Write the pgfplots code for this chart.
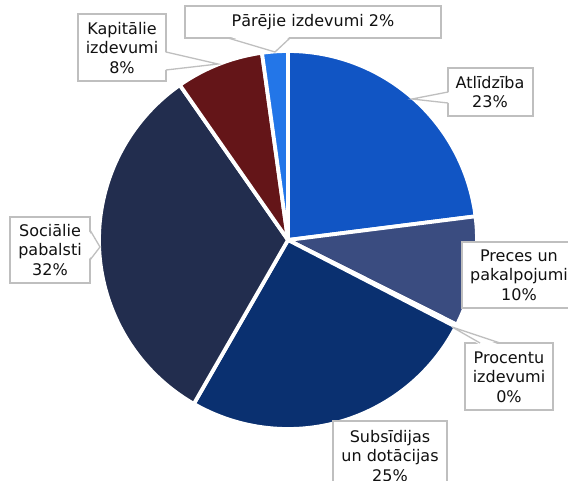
\documentclass[border=0pt]{standalone}
\usepackage{pgfplots}
\pgfplotsset{compat=1.18}
\usepackage{fontspec}
\setmainfont{DejaVu Sans}
\definecolor{cAtl}{HTML}{1155C4}
\definecolor{cPre}{HTML}{3A4C80}
\definecolor{cPro}{HTML}{4A6FB0}
\definecolor{cSub}{HTML}{0A3070}
\definecolor{cSoc}{HTML}{222D4E}
\definecolor{cKap}{HTML}{641518}
\definecolor{cPar}{HTML}{2376E8}
\definecolor{boxgray}{HTML}{BFBFBF}
\definecolor{txt}{HTML}{111111}
% shares (percent)
\def\vAtl{23.0}
\def\vPre{9.4}
\def\vPro{0.2}
\def\vSub{25.7}
\def\vSoc{32.0}
\def\vKap{7.5}
\def\vPar{2.2}
\pgfmathsetmacro\aA{90}
\pgfmathsetmacro\aB{\aA-3.6*\vAtl}
\pgfmathsetmacro\aC{\aB-3.6*\vPre}
\pgfmathsetmacro\aD{\aC-3.6*\vPro}
\pgfmathsetmacro\aE{\aD-3.6*\vSub}
\pgfmathsetmacro\aF{\aE-3.6*\vSoc}
\pgfmathsetmacro\aG{\aF-3.6*\vKap}
\pgfmathsetmacro\aH{\aG-3.6*\vPar}
\def\cx{288}
\def\cy{240}
\def\R{189}
\begin{document}
\begin{tikzpicture}[x=1pt,y=1pt]
\begin{axis}[
  scale only axis, width=568pt, height=481pt,
  xmin=0, xmax=568, ymin=0, ymax=481, y dir=reverse,
  hide axis, clip=false,
  every axis plot/.append style={draw=white, line width=3.8pt, line join=round, samples=90, variable=\t},
]
\addplot[fill=cAtl, domain=\aB:\aA] ({\cx+\R*cos(\t)},{\cy-\R*sin(\t)}) -- (axis cs:\cx,\cy) -- cycle;
\addplot[fill=cPre, domain=\aC:\aB] ({\cx+\R*cos(\t)},{\cy-\R*sin(\t)}) -- (axis cs:\cx,\cy) -- cycle;
\addplot[fill=cPro, domain=\aD:\aC, samples=5] ({\cx+\R*cos(\t)},{\cy-\R*sin(\t)}) -- (axis cs:\cx,\cy) -- cycle;
\addplot[fill=cSub, domain=\aE:\aD] ({\cx+\R*cos(\t)},{\cy-\R*sin(\t)}) -- (axis cs:\cx,\cy) -- cycle;
\addplot[fill=cSoc, domain=\aF:\aE] ({\cx+\R*cos(\t)},{\cy-\R*sin(\t)}) -- (axis cs:\cx,\cy) -- cycle;
\addplot[fill=cKap, domain=\aG:\aF] ({\cx+\R*cos(\t)},{\cy-\R*sin(\t)}) -- (axis cs:\cx,\cy) -- cycle;
\addplot[fill=cPar, domain=\aH:\aG] ({\cx+\R*cos(\t)},{\cy-\R*sin(\t)}) -- (axis cs:\cx,\cy) -- cycle;

\tikzset{bx/.style={draw=boxgray, fill=white, line width=1.3pt},
  ptf/.style={fill=white},
  ptd/.style={draw=boxgray, line width=1.3pt, line join=miter},
  lbl/.style={text=txt, align=center, font=\fontsize{16}{19.5}\selectfont, inner sep=0pt}}
% Kapitalie
\draw[bx] (axis cs:78,14) rectangle (axis cs:166,81);
\fill[ptf] (axis cs:164,52) -- (axis cs:218,64) -- (axis cs:164,70) -- cycle;
\draw[ptd] (axis cs:166,52) -- (axis cs:218,64) -- (axis cs:166,70);
\node[lbl] at (axis cs:122,48) {Kapitālie\\izdevumi\\8\%};
% Parejie
\draw[bx] (axis cs:185,6) rectangle (axis cs:441,38);
\fill[ptf] (axis cs:228,36) -- (axis cs:275,52) -- (axis cs:290,36) -- cycle;
\draw[ptd] (axis cs:228,38) -- (axis cs:275,52) -- (axis cs:290,38);
\node[lbl] at (axis cs:313,22) {Pārējie izdevumi 2\%};
% Atlidziba
\draw[bx] (axis cs:448,68) rectangle (axis cs:533,116);
\fill[ptf] (axis cs:450,92) -- (axis cs:412,99) -- (axis cs:450,103) -- cycle;
\draw[ptd] (axis cs:448,92) -- (axis cs:412,99) -- (axis cs:448,103);
\node[lbl] at (axis cs:490,92) {Atlīdzība\\23\%};
% Preces
\draw[bx] (axis cs:462,242) rectangle (axis cs:580,308);
\node[lbl] at (axis cs:519,275) {Preces un\\pakalpojumi\\10\%};
% Procentu
\draw[bx] (axis cs:465,343) rectangle (axis cs:553,410);
\fill[ptf] (axis cs:480,345) -- (axis cs:452,327) -- (axis cs:500,345) -- cycle;
\draw[ptd] (axis cs:480,343) -- (axis cs:452,327) -- (axis cs:500,343);
\node[lbl] at (axis cs:509,377) {Procentu\\izdevumi\\0\%};
% Socialie
\draw[bx] (axis cs:10,217) rectangle (axis cs:90,283);
\fill[ptf] (axis cs:88,230) -- (axis cs:100,247) -- (axis cs:88,260) -- cycle;
\draw[ptd] (axis cs:90,230) -- (axis cs:100,247) -- (axis cs:90,260);
\node[lbl] at (axis cs:50,250) {Sociālie\\pabalsti\\32\%};
% Subsidijas
\draw[bx] (axis cs:333,421) rectangle (axis cs:447,495);
\node[lbl] at (axis cs:390,456) {Subsīdijas\\un dotācijas\\25\%};
\end{axis}
\pgfresetboundingbox
\useasboundingbox (0,0) rectangle (568pt,481pt);
\end{tikzpicture}
\end{document}
